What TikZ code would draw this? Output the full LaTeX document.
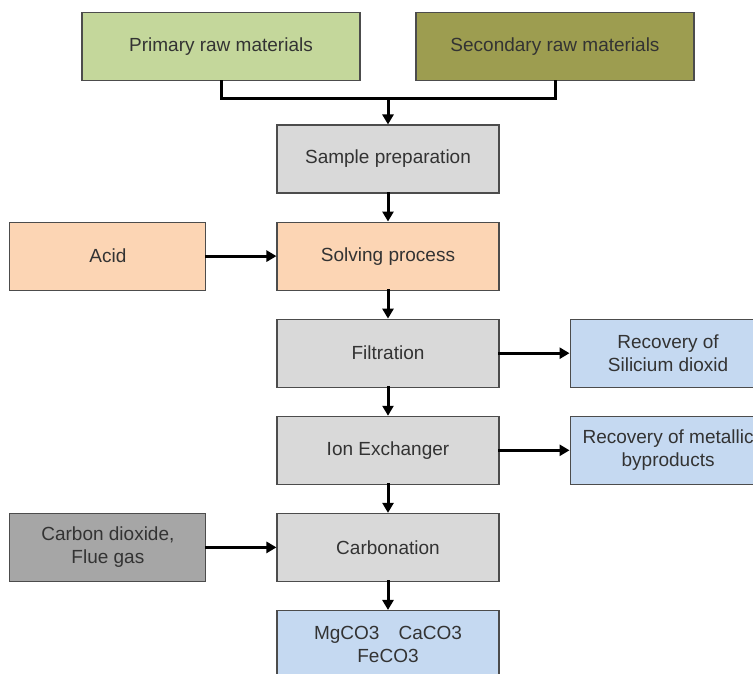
\documentclass[tikz,border=0pt]{standalone}
\usepackage{fontspec}
\setmainfont{Liberation Sans}
\usetikzlibrary{positioning,arrows.meta}

\definecolor{primgreen}{HTML}{C4D79B}
\definecolor{secolive}{HTML}{9D9D50}
\definecolor{procgray}{HTML}{D9D9D9}
\definecolor{peach}{HTML}{FCD5B4}
\definecolor{outblue}{HTML}{C5D9F1}
\definecolor{gasgray}{HTML}{A6A6A6}

\tikzset{
  box/.style={draw=black!70, line width=1.1pt, fill=procgray, text=black!80,
    minimum width=222pt, minimum height=68pt, align=center,
    font=\fontsize{19}{23}\selectfont, inner sep=2pt},
  side/.style={box, minimum width=196pt},
  flow/.style={line width=3pt, line cap=rect},
  arr/.style={flow, -{Triangle[length=10pt,width=11pt]}},
}

\begin{document}
\begin{tikzpicture}[x=1pt, y=1pt, node distance=28pt and 70pt]
  \useasboundingbox (0,0) rectangle (753,-674);
  \clip (0,0) rectangle (753,-674);

  \node[box] (prep) at (388,-159) {Sample preparation};
  \node[box, fill=peach, below=of prep] (solve) {Solving process};
  \node[box, below=of solve] (filt) {Filtration};
  \node[box, below=of filt] (ion) {Ion Exchanger};
  \node[box, below=of ion] (carb) {Carbonation};
  \node[box, fill=outblue, below=of carb] (prod) {MgCO3\quad CaCO3\\FeCO3};

  \node[side, fill=peach, left=of solve] (acid) {Acid};
  \node[side, fill=gasgray, left=of carb] (gas) {Carbon dioxide,\\Flue gas};

  \node[side, fill=outblue, right=of filt] (silica) {Recovery of\\Silicium dioxid};
  \node[side, fill=outblue, right=of ion] (metal) {Recovery of metallic\\byproducts};

  \node[box, minimum width=278pt, fill=primgreen, above=43pt of prep, xshift=-167pt] (prim) {Primary raw materials};
  \node[box, minimum width=278pt, fill=secolive, above=43pt of prep, xshift=167pt] (sec) {Secondary raw materials};

  \coordinate[above=26pt of prep] (join);

  \draw[flow] (prim.south) |- (join);
  \draw[flow] (sec.south) |- (join);
  \draw[arr] (join) -- (prep);
  \draw[arr] (prep) -- (solve);
  \draw[arr] (solve) -- (filt);
  \draw[arr] (filt) -- (ion);
  \draw[arr] (ion) -- (carb);
  \draw[arr] (carb) -- (prod);

  \draw[arr] (acid) -- (solve);
  \draw[arr] (gas) -- (carb);
  \draw[arr] (filt) -- (silica);
  \draw[arr] (ion) -- (metal);
\end{tikzpicture}
\end{document}
